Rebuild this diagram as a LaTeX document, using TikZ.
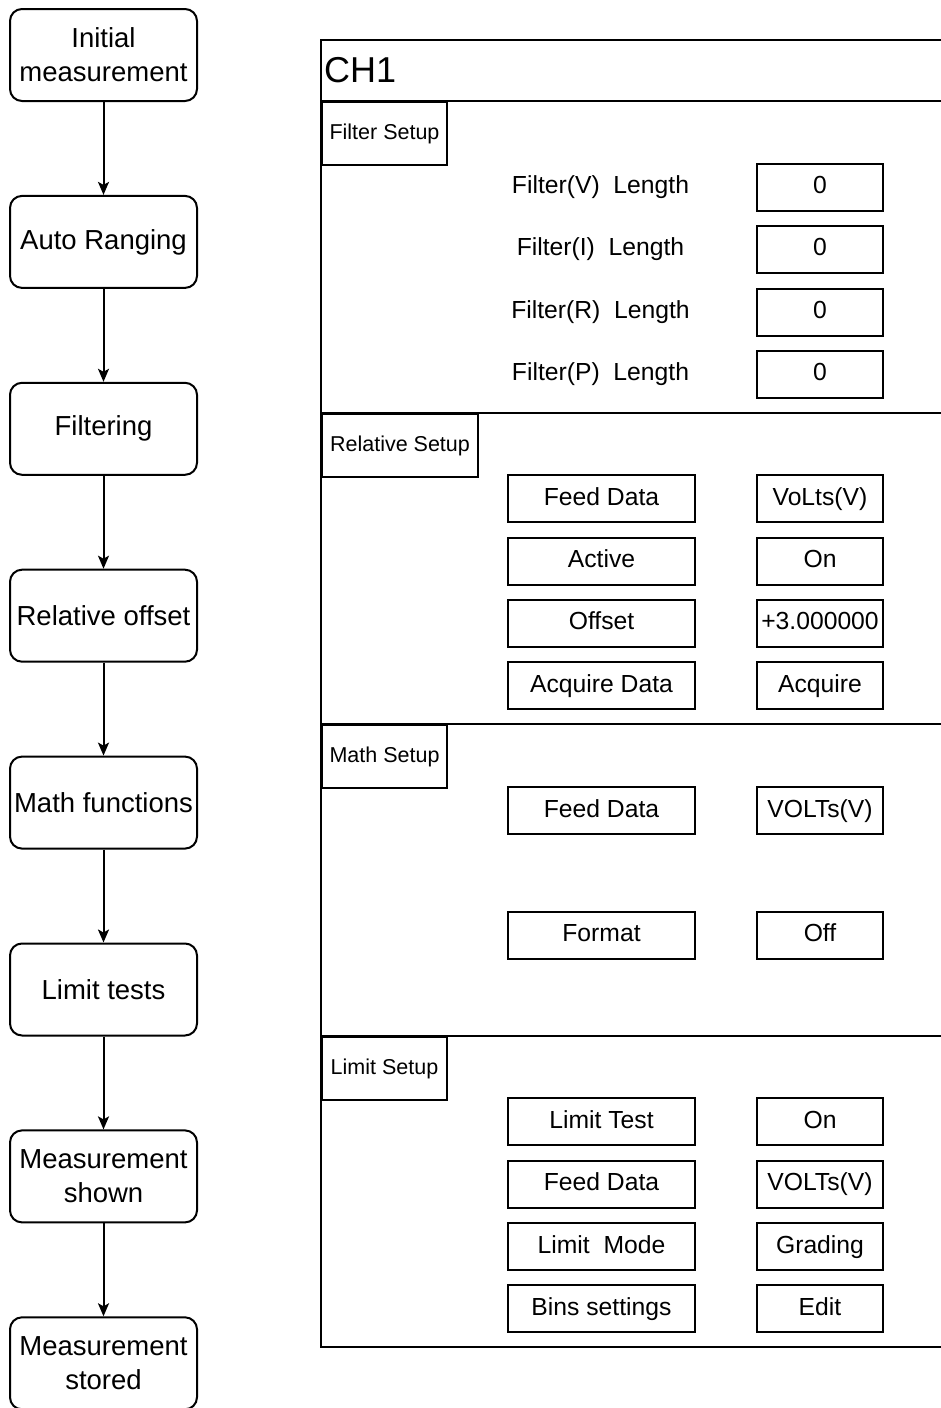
\documentclass[tikz,border=0pt]{standalone}
\usepackage{fontspec}
\setmainfont{Liberation Sans}
\usetikzlibrary{arrows.meta,positioning}

\tikzset{
  flowbox/.style={draw, rounded corners=12pt, line width=2pt, minimum width=187pt,
    minimum height=92pt, align=center, inner sep=0pt, font=\fontsize{27.5}{34}\selectfont},
  keybox/.style={draw, line width=2pt, minimum width=187pt, minimum height=47pt,
    inner sep=0pt, text height=18pt, text depth=5pt, font=\fontsize{24.7}{30}\selectfont},
  valbox/.style={keybox, minimum width=126pt},
  plain/.style={inner sep=0pt, text height=18pt, text depth=5pt, font=\fontsize{24.7}{30}\selectfont},
  tab/.style={draw, line width=2pt, anchor=north west, minimum height=63pt,
    inner sep=0pt, font=\fontsize{21.5}{26}\selectfont},
  flow/.style={line width=2pt, -{Stealth[length=13pt,width=11pt,inset=3pt]}},
}

\begin{document}
\begin{tikzpicture}[x=1pt,y=-1pt]
  \useasboundingbox (0,0) rectangle (940,1408);

  % measurement flow
  \foreach \t [count=\i] in {{Initial\\measurement}, Auto Ranging, Filtering,
      Relative offset, Math functions, Limit tests, {Measurement\\shown},
      {Measurement\\stored}}
    \node[flowbox] (s\i) at (103.5,{55+186.9*(\i-1)}) {\t};
  \foreach \i [remember=\i as \prev (initially 1)] in {2,...,8}
    \draw[flow] (s\prev) -- (s\i);

  % CH1 panel
  \draw[line width=2pt] (950,40) -- (321,40) -- (321,1347) -- (950,1347);
  \foreach \y in {101,413,724,1036}
    \draw[line width=2pt] (321,\y) -- (950,\y);
  \node[anchor=west, inner sep=0pt, font=\fontsize{36}{40}\selectfont] (ch) at (324,70) {CH1};

  \node[tab, minimum width=125pt] (filt) at (321,101) {Filter Setup};
  \node[tab, minimum width=156pt] (rel) at (321,413) {Relative Setup};
  \node[tab, minimum width=125pt] (math) at (321,724) {Math Setup};
  \node[tab, minimum width=125pt] (lim) at (321,1036) {Limit Setup};

  % filter setup
  \foreach \q/\y [count=\i] in {V/187, I/249, R/312, P/374} {
    \node[plain] (flen\i) at (600.5,\y) {Filter(\q)~~Length};
    \node[valbox] (fval\i) at (820,\y) {0};
  }

  % relative setup
  \foreach \k/\v/\y [count=\i] in {Feed Data/VoLts(V)/498.5, Active/On/561,
      Offset/+3.000000/623, Acquire Data/Acquire/685.5} {
    \node[keybox] (rkey\i) at (601.5,\y) {\k};
    \node[valbox] (rval\i) at (820,\y) {\v};
  }

  % math setup
  \foreach \k/\v/\y [count=\i] in {Feed Data/VOLTs(V)/810.5, Format/Off/935} {
    \node[keybox] (mkey\i) at (601.5,\y) {\k};
    \node[valbox] (mval\i) at (820,\y) {\v};
  }

  % limit setup
  \foreach \k/\v/\y [count=\i] in {Limit Test/On/1121.5, Feed Data/VOLTs(V)/1184,
      Limit~~Mode/Grading/1246.5, Bins settings/Edit/1308.5} {
    \node[keybox] (lkey\i) at (601.5,\y) {\k};
    \node[valbox] (lval\i) at (820,\y) {\v};
  }
\end{tikzpicture}
\end{document}
